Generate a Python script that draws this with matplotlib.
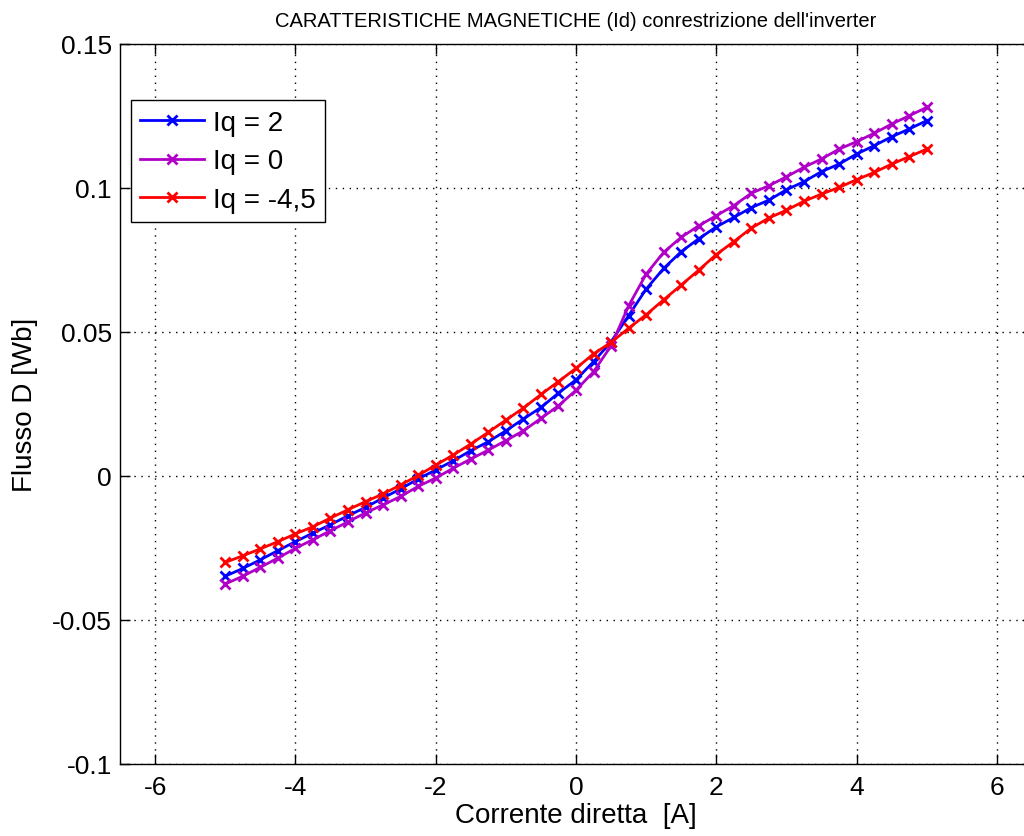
import matplotlib
matplotlib.use("Agg")
import matplotlib.pyplot as plt

plt.rcParams['font.family'] = ['Liberation Sans', 'DejaVu Sans']
plt.rcParams['axes.unicode_minus'] = False

# Data
corrente = [-5.0, -4.75, -4.5, -4.25, -4.0, -3.75, -3.5, -3.25, -3.0, -2.75,
            -2.5, -2.25, -2.0, -1.75, -1.5, -1.25, -1.0, -0.75, -0.5, -0.25,
            0.0, 0.25, 0.5, 0.75, 1.0, 1.25, 1.5, 1.75, 2.0, 2.25,
            2.5, 2.75, 3.0, 3.25, 3.5, 3.75, 4.0, 4.25, 4.5, 4.75, 5.0]

flusso_iq2 = [-0.0348, -0.0321, -0.0291, -0.0259, -0.0228, -0.0198, -0.0169, -0.0138, -0.0109, -0.0076,
              -0.0045, -0.0010, 0.0021, 0.0053, 0.0088, 0.0119, 0.0157, 0.0198, 0.0238, 0.0288,
              0.0334, 0.0397, 0.0466, 0.0557, 0.0649, 0.0721, 0.0779, 0.0824, 0.0865, 0.0898,
              0.0932, 0.0958, 0.0994, 0.1022, 0.1057, 0.1083, 0.1118, 0.1147, 0.1178, 0.1205, 0.1234]

flusso_iq0 = [-0.0375, -0.0348, -0.0317, -0.0285, -0.0251, -0.0221, -0.0190, -0.0159, -0.0128, -0.0100,
              -0.0071, -0.0036, -0.0007, 0.0027, 0.0059, 0.0090, 0.0123, 0.0157, 0.0200, 0.0244,
              0.0298, 0.0362, 0.0452, 0.0591, 0.0701, 0.0777, 0.0829, 0.0869, 0.0904, 0.0939,
              0.0982, 0.1008, 0.1039, 0.1072, 0.1101, 0.1135, 0.1161, 0.1190, 0.1222, 0.1251, 0.1280]

flusso_iqm45 = [-0.0300, -0.0277, -0.0253, -0.0228, -0.0201, -0.0176, -0.0146, -0.0117, -0.0089, -0.0062,
                -0.0031, 0.0002, 0.0038, 0.0073, 0.0111, 0.0152, 0.0194, 0.0236, 0.0283, 0.0328,
                0.0374, 0.0424, 0.0464, 0.0513, 0.0560, 0.0612, 0.0663, 0.0715, 0.0769, 0.0814,
                0.0861, 0.0896, 0.0923, 0.0954, 0.0979, 0.1002, 0.1029, 0.1054, 0.1083, 0.1109, 0.1135]

labels = ['Iq = 2', 'Iq = 0', 'Iq = -4,5']
colors = ['#0000FF', '#B000C8', '#FF0000']

xticks = [-6, -4, -2, 0, 2, 4, 6]
xticklabels = ['-6', '-4', '-2', '0', '2', '4', '6']
yticks = [-0.1, -0.05, 0, 0.05, 0.1, 0.15]
yticklabels = ['-0.1', '-0.05', '0', '0.05', '0.1', '0.15']

fig = plt.figure(figsize=(10.24, 8.37), dpi=100)
ax = fig.add_axes([120/1024, 72/837, 912/1024, 720/837])

for ys, lab, col in zip([flusso_iq2, flusso_iq0, flusso_iqm45], labels, colors):
    ax.plot(corrente, ys, color=col, lw=2.0, marker='x', markersize=7.5, mew=2.0, label=lab)

ax.set_xlim(-6.5, 6.5)
ax.set_ylim(-0.1, 0.15)
ax.set_xticks(xticks)
ax.set_xticklabels(xticklabels)
ax.set_yticks(yticks)
ax.set_yticklabels(yticklabels)
ax.tick_params(direction='in', length=7, width=1, labelsize=19, top=True, right=True)
ax.tick_params(axis='x', pad=8)
ax.tick_params(axis='y', pad=6)
ax.grid(True, linestyle=(0, (1, 4)), color='black', lw=1.0)
for s in ax.spines.values():
    s.set_linewidth(1.0)
    s.set_color('black')

ax.set_title("CARATTERISTICHE MAGNETICHE (Id) conrestrizione dell'inverter", fontsize=14.5, pad=13)
ax.set_xlabel('Corrente diretta  [A]', fontsize=20)
ax.set_ylabel('Flusso D [Wb]', fontsize=20)
ax.xaxis.set_label_coords(0.5, -0.053)
ax.yaxis.set_label_coords(-0.09, 0.5)

leg = ax.legend(loc='upper left', bbox_to_anchor=(130.7/1024, 1 - 101/837),
                bbox_transform=fig.transFigure, borderaxespad=0, fontsize=20,
                fancybox=False, framealpha=1, edgecolor='black', numpoints=1,
                handlelength=2.3, handletextpad=0.3, labelspacing=0.45, borderpad=0.35)
leg.get_frame().set_linewidth(1.0)

fig.savefig('out.png', dpi=100)
